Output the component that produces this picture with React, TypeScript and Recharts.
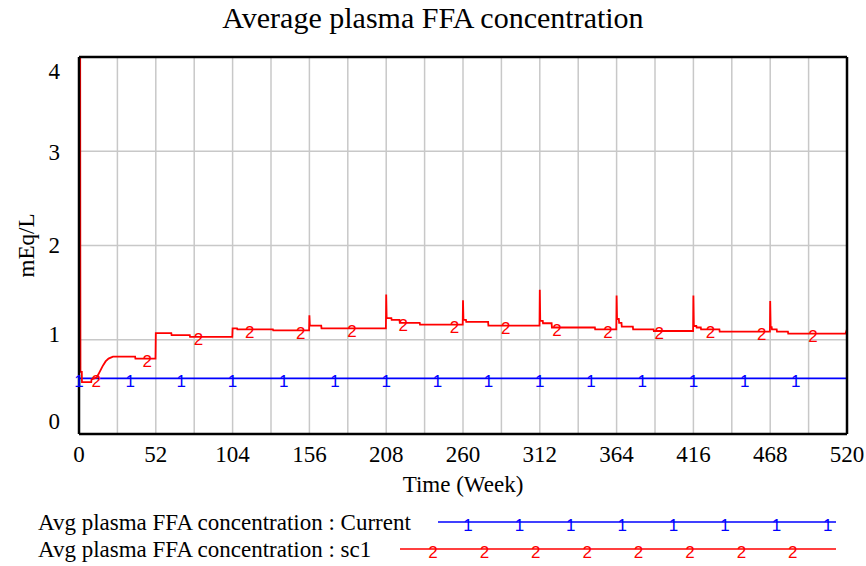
import React from "react";
import {
  ComposedChart,
  Line,
  Scatter,
  XAxis,
  YAxis,
  CartesianGrid,
  Legend,
  Label,
} from "recharts";

const TITLE = "Average plasma FFA concentration";
const X_LABEL = "Time (Week)";
const Y_LABEL = "mEq/L";
const CURRENT_NAME = "Avg plasma FFA concentration : Current";
const SC1_NAME = "Avg plasma FFA concentration : sc1";

// axis ticks (grid every 26 weeks, label every 52)
const X_TICKS = [
  0, 26, 52, 78, 104, 130, 156, 182, 208, 234, 260, 286, 312, 338, 364, 390, 416, 442, 468, 494, 520,
];
const Y_TICKS = [0, 1, 2, 3, 4];

// Current run: flat
const CURRENT_WEEK = [0, 520];
const CURRENT_VALUE = [0.59, 0.59];

// sc1 run: step-like trace with yearly spikes
const SC1_WEEK = [
  0, 0.8, 0.9, 1.0, 1.9, 2.0, 8.3, 8.5, 12, 14, 16, 18, 20, 23, 38, 38.2, 51.8,
  52, 62.5, 62.7, 75, 75.2, 103.8,
  104, 107, 107.2, 131.3, 131.5, 155.8,
  156, 156.3, 164, 164.2, 207.8,
  208, 208.3, 211.5, 211.7, 217, 217.2, 230.7, 230.9, 259.8,
  260, 260.3, 262, 262.2, 277, 277.2, 311.8,
  312, 312.3, 314, 314.2, 320, 320.2, 349.3, 349.5, 363.8,
  364, 364.3, 365.5, 365.7, 367.3, 367.5, 375, 375.2, 389, 389.2, 415.8,
  416, 416.3, 418, 418.2, 421, 421.2, 433.6, 433.8, 467.8,
  468, 468.3, 469, 469.2, 472.4, 472.6, 480, 480.2, 519, 520,
];
const SC1_VALUE = [
  4.0, 4.0, 1.82, 0.66, 0.66, 0.55, 0.55, 0.58, 0.6, 0.66, 0.72, 0.77, 0.8, 0.82, 0.82, 0.8, 0.8,
  1.07, 1.07, 1.05, 1.05, 1.03, 1.03,
  1.12, 1.12, 1.11, 1.11, 1.1, 1.1,
  1.26, 1.15, 1.15, 1.12, 1.12,
  1.48, 1.23, 1.23, 1.21, 1.21, 1.18, 1.18, 1.16, 1.16,
  1.42, 1.21, 1.21, 1.19, 1.19, 1.15, 1.15,
  1.53, 1.2, 1.2, 1.175, 1.175, 1.13, 1.13, 1.11, 1.11,
  1.47, 1.22, 1.22, 1.18, 1.18, 1.14, 1.14, 1.11, 1.11, 1.093, 1.093,
  1.47, 1.146, 1.146, 1.13, 1.13, 1.11, 1.11, 1.086, 1.086,
  1.41, 1.135, 1.135, 1.11, 1.11, 1.086, 1.086, 1.065, 1.065, 1.11,
];

// Vensim-style series markers ("1" / "2" drawn on the lines)
const CURRENT_MARK_WEEK = [
  0, 34.7, 69.3, 104, 138.7, 173.3, 208, 242.7, 277.3, 312, 346.7, 381.3, 416, 450.7, 485.3,
];
const CURRENT_MARK_VALUE = [
  0.59, 0.59, 0.59, 0.59, 0.59, 0.59, 0.59, 0.59, 0.59, 0.59, 0.59, 0.59, 0.59, 0.59, 0.59,
];
const SC1_MARK_WEEK = [
  11.6, 46.2, 80.9, 115.6, 150.2, 184.9, 219.6, 254.2, 288.9, 323.6, 358.2, 392.9, 427.6, 462.2, 496.9,
];
const SC1_MARK_VALUE = [
  0.59, 0.8, 1.03, 1.11, 1.1, 1.12, 1.18, 1.16, 1.15, 1.13, 1.11, 1.093, 1.11, 1.086, 1.065,
];

const BLUE = "#0000ff";
const RED = "#ff0000";
const SERIF = '"Liberation Serif", "Times New Roman", serif';
const SANS = '"Liberation Sans", Arial, sans-serif';
const FRAME = { stroke: "#000", strokeWidth: 2.5 };

const zip = (ts: number[], vs: number[]) => ts.map((t, i) => ({ t, v: vs[i] }));

const currentData = zip(CURRENT_WEEK, CURRENT_VALUE);
const sc1Data = zip(SC1_WEEK, SC1_VALUE);
const currentMarks = zip(CURRENT_MARK_WEEK, CURRENT_MARK_VALUE);
const sc1Marks = zip(SC1_MARK_WEEK, SC1_MARK_VALUE);

const digitShape = (digit: string, color: string) => (props: any) =>
  (
    <text
      x={props.cx}
      y={props.cy + 3}
      textAnchor="middle"
      dominantBaseline="central"
      fill={color}
      fontSize={17}
      fontFamily={SANS}
    >
      {digit}
    </text>
  );

function XTick(props: any) {
  const { x, y, payload } = props;
  if (payload.value % 52 !== 0) return null;
  return (
    <text x={x} y={y} dy="0.71em" textAnchor="middle" fontSize={23} fontFamily={SERIF} fill="#000">
      {payload.value}
    </text>
  );
}

// Vensim nudges the end labels inward
const Y_NUDGE: Record<number, number> = { 0: -13, 1: -5, 2: 0, 3: 1, 4: 14 };

function YTick(props: any) {
  const { x, y, payload } = props;
  return (
    <text
      x={x}
      y={y + (Y_NUDGE[payload.value] ?? 0)}
      textAnchor="end"
      dominantBaseline="central"
      fontSize={23}
      fontFamily={SERIF}
      fill="#000"
    >
      {payload.value}
    </text>
  );
}

// legend rows: where the sample line starts, where its markers start
const LEGEND_ROWS = [
  { lineFrom: 438, markFrom: 468, digit: "1" },
  { lineFrom: 400, markFrom: 433, digit: "2" },
];

function renderLegend(props: any) {
  const items = (props.payload || []).filter((p: any) => p.type !== "none");
  return (
    <svg width={866} height={61}>
      {items.map((item: any, i: number) => {
        const row = LEGEND_ROWS[i];
        const cy = 17 + i * 27;
        const marks = [];
        for (let k = 0; k < 8; k++) {
          marks.push(
            <text
              key={k}
              x={row.markFrom + k * 51.4}
              y={cy + 3}
              textAnchor="middle"
              dominantBaseline="central"
              fill={item.color}
              fontSize={17}
              fontFamily={SANS}
            >
              {row.digit}
            </text>
          );
        }
        return (
          <g key={item.value}>
            <text x={38} y={cy + 8} fontSize={23} fontFamily={SERIF} fill="#000">
              {item.value}
            </text>
            <line x1={row.lineFrom} x2={836} y1={cy} y2={cy} stroke={item.color} strokeWidth={1.5} />
            {marks}
          </g>
        );
      })}
    </svg>
  );
}

export default function App() {
  return (
    <div style={{ position: "absolute", left: 0, top: 0, width: 866, height: 566, background: "#fff" }}>
      <div
        style={{
          position: "absolute",
          left: 0,
          top: 3,
          width: 866,
          textAlign: "center",
          fontFamily: SERIF,
          fontSize: 30,
          lineHeight: "30px",
          color: "#000",
          zIndex: 1,
        }}
      >
        {TITLE}
      </div>
      <ComposedChart width={866} height={566} margin={{ top: 56, right: 18, bottom: 72, left: 0 }}>
        <CartesianGrid stroke="#c8c8c8" strokeWidth={1.5} />
        <XAxis
          type="number"
          dataKey="t"
          domain={[0, 520]}
          ticks={X_TICKS}
          interval={0}
          tick={<XTick />}
          tickLine={false}
          axisLine={FRAME}
          tickSize={6}
          tickMargin={6}
          height={60}
        >
          <Label
            content={(p: any) => {
              const vb = p.viewBox || { x: 79, y: 433.5, width: 768 };
              return (
                <text
                  x={vb.x + vb.width / 2}
                  y={vb.y + 57.5}
                  textAnchor="middle"
                  fontSize={23}
                  fontFamily={SERIF}
                  fill="#000"
                >
                  {X_LABEL}
                </text>
              );
            }}
          />
        </XAxis>
        <XAxis
          xAxisId="top"
          orientation="top"
          type="number"
          domain={[0, 520]}
          tick={false}
          tickLine={false}
          axisLine={FRAME}
          height={1}
        />
        <YAxis
          type="number"
          domain={[0, 4]}
          ticks={Y_TICKS}
          interval={0}
          tick={<YTick />}
          tickLine={false}
          axisLine={FRAME}
          tickSize={6}
          tickMargin={13}
          width={79}
        >
          <Label
            content={(p: any) => {
              const vb = p.viewBox || { x: 0, y: 57, height: 376.5 };
              const cx = vb.x + 34;
              const cy = vb.y + vb.height / 2;
              return (
                <text
                  x={cx}
                  y={cy}
                  transform={`rotate(-90 ${cx} ${cy})`}
                  textAnchor="middle"
                  fontSize={23}
                  fontFamily={SERIF}
                  fill="#000"
                >
                  {Y_LABEL}
                </text>
              );
            }}
          />
        </YAxis>
        <YAxis
          yAxisId="right"
          orientation="right"
          type="number"
          domain={[0, 4]}
          tick={false}
          tickLine={false}
          axisLine={FRAME}
          width={1}
        />
        <Line
          data={currentData}
          dataKey="v"
          name={CURRENT_NAME}
          type="linear"
          stroke={BLUE}
          strokeWidth={1.8}
          dot={false}
          activeDot={false}
          isAnimationActive={false}
        />
        <Line
          data={sc1Data}
          dataKey="v"
          name={SC1_NAME}
          type="linear"
          stroke={RED}
          strokeWidth={1.8}
          dot={false}
          activeDot={false}
          isAnimationActive={false}
        />
        <Scatter
          data={currentMarks}
          dataKey="v"
          legendType="none"
          shape={digitShape("1", BLUE)}
          isAnimationActive={false}
        />
        <Scatter
          data={sc1Marks}
          dataKey="v"
          legendType="none"
          shape={digitShape("2", RED)}
          isAnimationActive={false}
        />
        <Legend
          layout="horizontal"
          verticalAlign="middle"
          align="center"
          wrapperStyle={{ position: "absolute", left: 0, top: 505, width: 866, height: 61 }}
          content={renderLegend}
        />
      </ComposedChart>
    </div>
  );
}
